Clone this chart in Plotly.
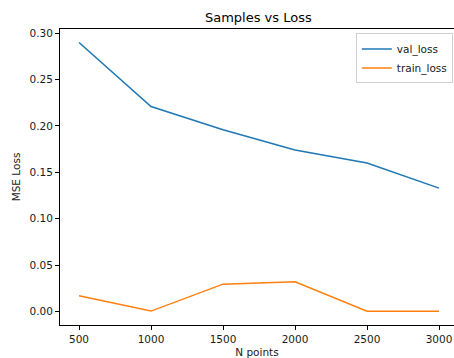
import plotly.graph_objects as go

n_points = [500, 1000, 1500, 2000, 2500, 3000]
val_loss = [0.290, 0.221, 0.196, 0.174, 0.160, 0.133]
train_loss = [0.017, 0.0005, 0.0295, 0.032, 0.0003, 0.0003]
y_ticks = [0.00, 0.05, 0.10, 0.15, 0.20, 0.25, 0.30]
x_ticks = [500, 1000, 1500, 2000, 2500, 3000]

fig = go.Figure()
fig.add_trace(go.Scatter(x=n_points, y=val_loss, mode="lines", name="val_loss",
                         line=dict(color="#1f77b4", width=1.5)))
fig.add_trace(go.Scatter(x=n_points, y=train_loss, mode="lines", name="train_loss",
                         line=dict(color="#ff7f0e", width=1.5)))

font = "DejaVu Sans"
fig.update_layout(
    width=454, height=358,
    margin=dict(l=60, r=0, t=29, b=33, autoexpand=False),
    paper_bgcolor="white", plot_bgcolor="white",
    font=dict(family=font, size=10.5, color="#1a1a1a"),
    title=dict(text="Samples vs Loss", x=0.569, xanchor="center", y=0.9525, yanchor="middle",
               font=dict(family=font, size=13, color="black")),
    showlegend=True,
    legend=dict(x=0.997, y=0.985, xanchor="right", yanchor="top",
                bgcolor="rgba(255,255,255,0.8)", bordercolor="#d0d0d0", borderwidth=1,
                font=dict(family=font, size=10.5), tracegroupgap=0, itemwidth=30),
)
fig.update_xaxes(range=[368, 3104], tickvals=x_ticks, ticktext=[str(v) for v in x_ticks],
                 showgrid=False, zeroline=False, showline=True, linecolor="black", linewidth=1,
                 mirror=True, ticks="outside", ticklen=4, tickcolor="black", automargin=False,
                 ticklabeloverflow="allow",
                 title=dict(text="N points", standoff=6, font=dict(size=10.5)))
fig.update_yaxes(range=[-0.0145, 0.3045], tickvals=y_ticks, ticktext=[f"{v:.2f}" for v in y_ticks],
                 showgrid=False, zeroline=False, showline=True, linecolor="black", linewidth=1,
                 ticks="outside", ticklen=4, tickcolor="black", automargin=False,
                 title=dict(text="MSE Loss", standoff=6, font=dict(size=10.5)))

fig.write_html("out.html", config={"displayModeBar": False},
               post_script="document.body.style.margin='0';document.body.style.overflow='hidden';")
